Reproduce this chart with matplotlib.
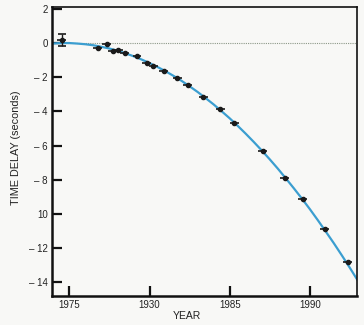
import matplotlib
matplotlib.use("Agg")
import matplotlib.pyplot as plt

# Observed data (year, cumulative time delay in seconds)
obs_year = [1974.53, 1976.77, 1977.33, 1977.72, 1978.04, 1978.47, 1979.22, 1979.84,
            1980.24, 1980.90, 1981.73, 1982.38, 1983.35, 1984.40, 1985.30, 1987.06,
            1988.45, 1989.57, 1990.94, 1992.37]
obs_delay = [0.19, -0.29, -0.06, -0.49, -0.43, -0.58, -0.78, -1.17,
             -1.33, -1.66, -2.05, -2.44, -3.16, -3.86, -4.67, -6.34,
             -7.89, -9.13, -10.86, -12.79]
obs_yerr = [0.35, 0.1, 0.1, 0.08, 0.08, 0.08, 0.06, 0.06,
            0.05, 0.05, 0.05, 0.05, 0.05, 0.05, 0.05, 0.05,
            0.05, 0.05, 0.05, 0.05]

# Predicted curve
curve_year = [1973.9, 1974.5, 1975, 1975.5, 1976, 1976.5, 1977, 1977.5, 1978, 1978.5,
              1979, 1979.5, 1980, 1980.5, 1981, 1981.5, 1982, 1982.5, 1983, 1983.5,
              1984, 1984.5, 1985, 1985.5, 1986, 1986.5, 1987, 1987.5, 1988, 1988.5,
              1989, 1989.5, 1990, 1990.5, 1991, 1991.5, 1992, 1992.5, 1993]
curve_delay = [-0.03, 0.0, 0.0, -0.03, -0.07, -0.13, -0.22, -0.32, -0.45, -0.60,
               -0.77, -0.96, -1.17, -1.40, -1.65, -1.92, -2.21, -2.53, -2.86, -3.22,
               -3.59, -3.99, -4.40, -4.84, -5.30, -5.78, -6.28, -6.80, -7.34, -7.91,
               -8.49, -9.09, -9.71, -10.36, -11.03, -11.71, -12.42, -13.15, -13.90]

xticks = [1975, 1980, 1985, 1990]
xticklabels = ["1975", "1930", "1985", "1990"]
yticks = [2, 0, -2, -4, -6, -8, -10, -12, -14]
yticklabels = ["2", "0", "\u2013 2", "\u2013 4", "\u2013 6", "\u2013 8", "10", "\u2013 12", "\u2013 14"]

plt.rcParams['font.family'] = ['Liberation Sans', 'DejaVu Sans']
bg = '#f8f8f6'
ink = '#1a1a1a'
fig = plt.figure(figsize=(3.64, 3.25), dpi=100, facecolor=bg)
ax = fig.add_axes([0.143, 0.089, 0.838, 0.889], facecolor=bg)

ax.axhline(0, color='#8c9888', lw=0.8, ls=(0, (1, 1)), zorder=1)
ax.plot(curve_year, curve_delay, color='#3b9ed0', lw=1.6, zorder=2)
# vertical error bars (only visible on the earliest point)
ax.errorbar(obs_year[:1], obs_delay[:1], yerr=obs_yerr[:1], fmt='none',
            ecolor=ink, elinewidth=1.0, capsize=3, capthick=1.2, zorder=3)
# points with short horizontal bars
ax.errorbar(obs_year, obs_delay, xerr=0.28, fmt='o', ms=3.0,
            color=ink, ecolor=ink, elinewidth=1.2, capsize=0, zorder=3)

ax.set_xlim(1973.92, 1992.95)
ax.set_ylim(-14.8, 2.1)
ax.set_xticks(xticks)
ax.set_xticklabels(xticklabels)
ax.set_yticks(yticks)
ax.set_yticklabels(yticklabels)
ax.tick_params(axis='both', direction='in', length=7, width=1.6, labelsize=7,
               color='#111111', labelcolor='#222222')
ax.tick_params(axis='x', pad=3)
ax.tick_params(axis='y', pad=3)

for side, lw in [('left', 1.8), ('bottom', 1.8), ('top', 1.2), ('right', 1.2)]:
    ax.spines[side].set_linewidth(lw)
    ax.spines[side].set_color('#111111')

ax.set_xlabel("YEAR", fontsize=7.5, color='#222222')
ax.set_ylabel("TIME DELAY (seconds)", fontsize=7.8, color='#222222')
ax.xaxis.set_label_coords(0.443, -0.052)
ax.yaxis.set_label_coords(-0.102, 0.515)

fig.savefig("out.png", dpi=100, facecolor=bg)
